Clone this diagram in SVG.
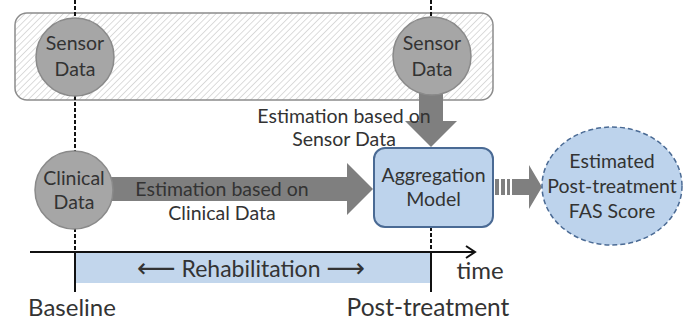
<svg xmlns="http://www.w3.org/2000/svg" width="690" height="322" viewBox="0 0 690 322">
  <style>
    .lbl { font-family: Lato, "Open Sans", "Liberation Sans", sans-serif; fill: #333333; text-anchor: middle; }
    .node-gray { fill: #a6a6a6; stroke: #8a8a8a; stroke-width: 1.5; }
    .node-blue { fill: #bdd3ec; stroke: #4a6a94; stroke-width: 2; }
    .flow { fill: #7f7f7f; }
    .guide { stroke: #111; stroke-width: 2; fill: none; }
    .guide-dash { stroke: #111; stroke-width: 2; stroke-dasharray: 4 2; fill: none; }
    .arw { font-family: "DejaVu Sans", sans-serif; font-size: 27px; }
  </style>
  <defs>
    <pattern id="hatch" patternUnits="userSpaceOnUse" width="4.5" height="4.5" patternTransform="rotate(45)">
      <rect width="4.5" height="4.5" fill="#ffffff"/>
      <line x1="0" y1="0" x2="0" y2="4.5" stroke="#c4c4c4" stroke-width="1.2"/>
    </pattern>
  </defs>

  <rect width="690" height="322" fill="#ffffff"/>

  <!-- sensor monitoring period -->
  <g id="sensor-panel">
    <rect x="15" y="13" width="478" height="87" rx="12" fill="url(#hatch)" stroke="#8c8c8c" stroke-width="1.5"/>
  </g>

  <!-- timeline -->
  <g id="timeline">
    <rect x="75" y="253" width="356" height="30" fill="#c2d6ec"/>
    <line class="guide" x1="30" y1="252" x2="475" y2="252"/>
    <polyline class="guide" points="466,246 475,252 466,258"/>
    <line class="guide" x1="75" y1="252" x2="75" y2="292"/>
    <line class="guide" x1="431" y1="252" x2="431" y2="292"/>
    <line class="guide-dash" x1="75" y1="0" x2="75" y2="252"/>
    <line class="guide-dash" x1="431" y1="0" x2="431" y2="20"/>
    <line class="guide-dash" x1="431" y1="227" x2="431" y2="252"/>
    <text class="lbl" x="251" y="277" font-size="23"><tspan class="arw">⟵</tspan> Rehabilitation <tspan class="arw">⟶</tspan></text>
    <text class="lbl" x="480" y="279" font-size="24">time</text>
    <text class="lbl" x="72" y="316" font-size="24">Baseline</text>
    <text class="lbl" x="428" y="316" font-size="24.5">Post-treatment</text>
  </g>

  <!-- connectors -->
  <g id="connectors">
    <!-- sensor data to aggregation model -->
    <polygon class="flow" points="419,90 443,90 443,121 457,121 431,147 405,121 419,121"/>
    <!-- clinical data to aggregation model -->
    <polygon class="flow" points="100,177 347,177 347,163 373,189 347,215 347,201 100,201"/>
    <!-- aggregation model to estimated score (striped arrow) -->
    <rect class="flow" x="495" y="179" width="4" height="16"/>
    <rect class="flow" x="501" y="179" width="4" height="16"/>
    <rect class="flow" x="507" y="179" width="3" height="16"/>
    <polygon class="flow" points="512,179 529,179 529,165 542,187 529,209 529,195 512,195"/>
  </g>

  <g id="sensor-data-baseline">
    <circle class="node-gray" cx="75" cy="57" r="39"/>
    <text class="lbl" x="75" y="50" font-size="19.5">Sensor</text>
    <text class="lbl" x="75" y="76" font-size="19.5">Data</text>
  </g>

  <g id="sensor-data-post">
    <circle class="node-gray" cx="432" cy="56" r="39"/>
    <text class="lbl" x="432" y="50" font-size="19.5">Sensor</text>
    <text class="lbl" x="432" y="76" font-size="19.5">Data</text>
  </g>

  <g id="clinical-data">
    <circle class="node-gray" cx="74" cy="190" r="39"/>
    <text class="lbl" x="74" y="185" font-size="19.5">Clinical</text>
    <text class="lbl" x="74" y="209" font-size="19.5">Data</text>
  </g>

  <g id="aggregation-model">
    <rect class="node-blue" x="374" y="148" width="119" height="79" rx="11"/>
    <text class="lbl" x="433.5" y="182" font-size="19.5">Aggregation</text>
    <text class="lbl" x="433.5" y="206" font-size="19.5">Model</text>
  </g>

  <g id="estimated-fas">
    <ellipse cx="612" cy="186" rx="70" ry="59" fill="#bdd3ec" stroke="#4a6a94" stroke-width="1.5" stroke-dasharray="5 3"/>
    <text class="lbl" x="612" y="168" font-size="19.5">Estimated</text>
    <text class="lbl" x="612" y="193" font-size="19.5">Post-treatment</text>
    <text class="lbl" x="612" y="218" font-size="19.5">FAS Score</text>
  </g>

  <!-- connector labels -->
  <g id="connector-labels">
    <text class="lbl" x="344" y="123" font-size="19.5">Estimation based on</text>
    <text class="lbl" x="344" y="146" font-size="19.5">Sensor Data</text>
    <text class="lbl" x="222" y="196" font-size="19.5">Estimation based on</text>
    <text class="lbl" x="222" y="220" font-size="19.5">Clinical Data</text>
  </g>
</svg>
